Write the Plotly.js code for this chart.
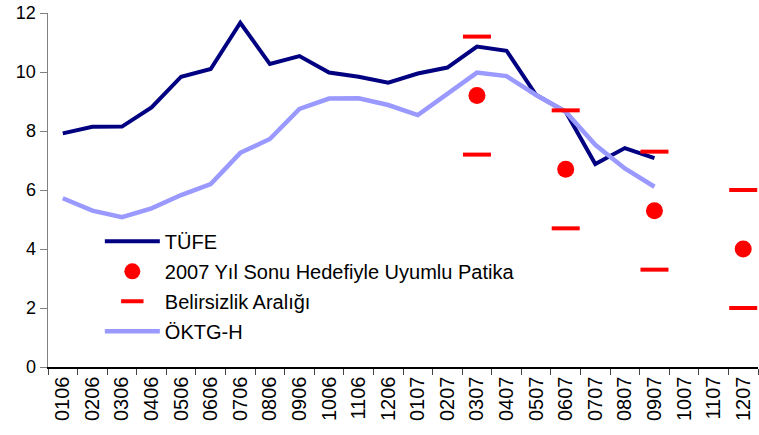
<!DOCTYPE html>
<html><head><meta charset="utf-8">
<script src="https://cdn.plot.ly/plotly-3.0.1.min.js"></script>
<style>html,body{margin:0;padding:0;background:#fff}#chart{width:759px;height:435px}</style>
</head><body><div id="chart"></div>
<script>
var categories = ['0106','0206','0306','0406','0506','0606','0706','0806','0906','1006','1106','1206',
                  '0107','0207','0307','0407','0507','0607','0707','0807','0907','1007','1107','1207'];
var tufe = [7.92,8.14,8.15,8.80,9.84,10.10,11.67,10.27,10.54,9.98,9.84,9.64,
            9.95,10.15,10.86,10.72,9.22,8.65,6.88,7.42,7.08];
var oktgh = [5.72,5.30,5.08,5.38,5.83,6.20,7.26,7.73,8.75,9.10,9.11,8.88,
             8.54,9.28,9.98,9.86,9.22,8.65,7.53,6.73,6.11];
var pathCats = ['0307','0607','0907','1207'];
var pathVals = [9.2,6.7,5.3,4.0];
var bandUpper = [11.2,8.7,7.3,6.0];
var bandLower = [7.2,4.7,3.3,2.0];

var bandX = pathCats.concat(pathCats);
var bandY = bandUpper.concat(bandLower);
var F = 'Liberation Sans, Arial, sans-serif';

var traces = [
  {x: categories.slice(0, tufe.length), y: tufe, name: 'TÜFE', type: 'scatter', mode: 'lines',
   line: {color: '#000080', width: 4}, legendrank: 1, legendgroup: 'a'},
  {x: categories.slice(0, oktgh.length), y: oktgh, name: 'ÖKTG-H', type: 'scatter', mode: 'lines',
   line: {color: '#9999FF', width: 4.5}, legendrank: 4, legendgroup: 'd'},
  {x: pathCats, y: pathVals, name: '2007 Yıl Sonu Hedefiyle Uyumlu Patika', type: 'scatter', mode: 'markers',
   marker: {color: '#FF0000', size: 17, line: {width: 0}}, legendrank: 2, legendgroup: 'b'},
  {x: bandX, y: bandY, name: 'Belirsizlik Aralığı', type: 'scatter', mode: 'markers',
   marker: {symbol: 'line-ew', size: 20, color: '#FF0000', line: {color: '#FF0000', width: 4}}, legendrank: 3, legendgroup: 'c'}
];

var layout = {
  width: 759, height: 435,
  margin: {l: 48, r: 1, t: 13, b: 68},
  paper_bgcolor: '#fff', plot_bgcolor: '#fff',
  font: {family: F, color: '#000'},
  showlegend: true,
  legend: {x: 0.073, y: 0.41, xanchor: 'left', yanchor: 'top', bgcolor: 'rgba(0,0,0,0)',
           font: {family: F, size: 20, color: '#000'}, traceorder: 'grouped', tracegroupgap: 1,
           itemwidth: 55},
  xaxis: {type: 'category', categoryorder: 'array', categoryarray: categories,
          range: [-0.5, 23.5], showgrid: false, zeroline: false,
          showline: true, linecolor: '#000', linewidth: 1.5,
          ticks: 'outside', tickson: 'boundaries', ticklen: 6, tickcolor: '#444', tickwidth: 1,
          tickangle: -90, tickfont: {family: F, size: 20, color: '#000'}, fixedrange: true},
  yaxis: {range: [0, 12], dtick: 2, showgrid: false, zeroline: false,
          showline: true, linecolor: '#808080', linewidth: 1.5,
          ticks: 'outside', ticklen: 7, tickcolor: '#808080',
          tickfont: {family: F, size: 18, color: '#000'}, fixedrange: true}
};

Plotly.newPlot('chart', traces, layout, {staticPlot: true, displayModeBar: false});
</script></body></html>
